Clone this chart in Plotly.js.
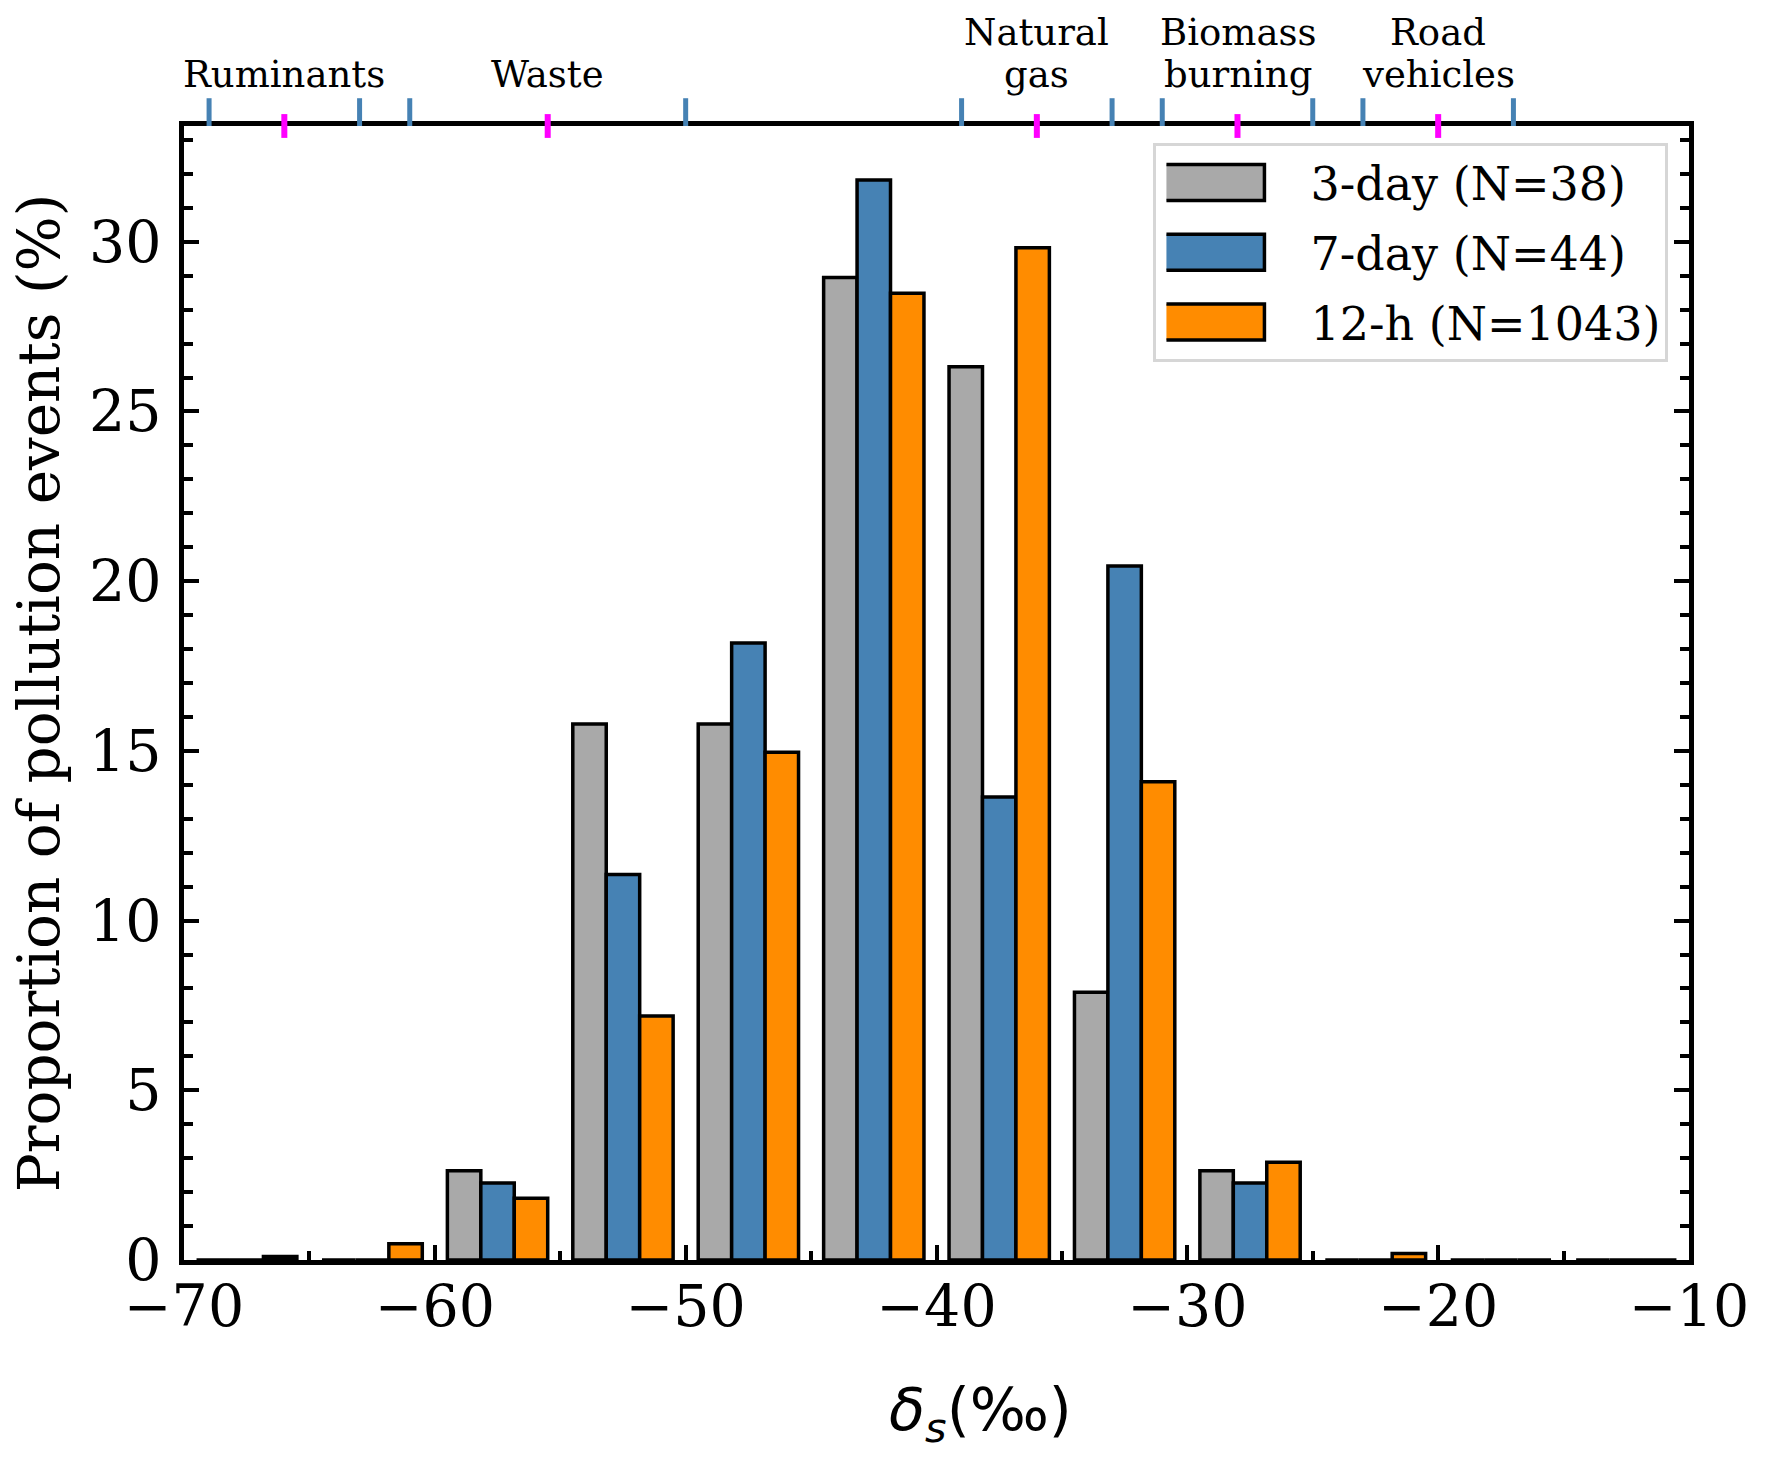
<!DOCTYPE html>
<html>
<head>
<meta charset="utf-8">
<script src="https://cdn.plot.ly/plotly-3.0.1.min.js"></script>
<style>
  body { margin: 0; background: #fff; }
  #chart { width: 1768px; height: 1462px; }
</style>
</head>
<body>
<div id="chart"></div>
<script>
// bin centres of the 5-permil histogram bins (-70 ... -10)
const binCentres = [-67.5, -62.5, -57.5, -52.5, -47.5, -42.5, -37.5, -32.5, -27.5, -22.5, -17.5, -12.5];

// proportion of pollution events per bin (%)
const threeDay = [0, 0, 2.63, 15.79, 15.79, 28.95, 26.32, 7.89, 2.63, 0, 0, 0];
const sevenDay = [0, 0, 2.27, 11.36, 18.18, 31.82, 13.64, 20.45, 2.27, 0, 0, 0];
const twelveHour = [0.10, 0.48, 1.82, 7.19, 14.96, 28.48, 29.82, 14.09, 2.88, 0.19, 0, 0];

const seriesNames = ['3-day (N=38)', '7-day (N=44)', '12-h (N=1043)'];

// source signatures shown along the top axis (labels split in two lines)
const sourceLine1 = ['', '', 'Natural', 'Biomass', 'Road'];
const sourceLine2 = ['Ruminants', 'Waste', 'gas', 'burning', 'vehicles'];
const sourceMean = [-66, -55.5, -36, -28, -20];
const sourceLow = [-69, -61, -39, -31, -23];
const sourceHigh = [-63, -50, -33, -25, -17];

const serif = 'DejaVu Serif, serif';
const colours = ['#a9a9a9', '#4682b4', '#ff8c00'];

const traces = [threeDay, sevenDay, twelveHour].map((vals, i) => ({
    type: 'bar',
    x: binCentres,
    y: vals,
    name: seriesNames[i],
    legendgroup: 'g' + i,
    marker: {color: colours[i], line: {color: '#000', width: 3.5}},
    hoverinfo: 'x+y'
}));

// top-axis ranges (blue) and means (magenta)
let shapes = [];
sourceLow.concat(sourceHigh).forEach(v => {
    shapes.push({type: 'line', xref: 'x', yref: 'paper', x0: v, x1: v, y0: 1, y1: 1.0245,
        line: {color: '#4682b4', width: 5}});
});
sourceMean.forEach(v => {
    shapes.push({type: 'line', xref: 'x', yref: 'paper', x0: v, x1: v, y0: 0.9895, y1: 1.0105,
        line: {color: '#ff00ff', width: 6}});
});

let annotations = [];
sourceMean.forEach((m, i) => {
    [[sourceLine1[i], 1.062], [sourceLine2[i], 1.025]].forEach(([txt, yy]) => {
        if (!txt) return;
        annotations.push({
            x: m, xref: 'x', y: yy, yref: 'paper',
            text: txt, showarrow: false, xanchor: 'center', yanchor: 'bottom',
            font: {family: serif, size: 37, color: '#000'}
        });
    });
});

annotations.push({
    x: 0.529, xref: 'paper', y: -0.135, yref: 'paper',
    text: '<i>δ<sub>s</sub></i>(‰)', showarrow: false, xanchor: 'center', yanchor: 'middle',
    font: {family: 'DejaVu Sans, sans-serif', size: 59, color: '#000'}
});

const layout = {
    width: 1768,
    height: 1462,
    margin: {l: 184, r: 79, t: 126, b: 202},
    paper_bgcolor: '#fff',
    plot_bgcolor: '#fff',
    barmode: 'group',
    bargap: 0.2,
    bargroupgap: 0,
    font: {family: serif, color: '#000'},
    xaxis: {
        range: [-70, -10],
        tickmode: 'linear', tick0: -70, dtick: 10,
        ticks: 'inside', ticklen: 15, tickwidth: 4, tickcolor: '#000',
        minor: {dtick: 5, ticks: 'inside', ticklen: 9, tickwidth: 4, tickcolor: '#000'},
        showline: true, linewidth: 5, linecolor: '#000', mirror: true,
        showgrid: false, zeroline: false,
        tickfont: {family: serif, size: 57},
        ticklabelstandoff: -7
    },
    yaxis: {
        range: [0, 33.41],
        tickmode: 'linear', tick0: 0, dtick: 5,
        ticks: 'inside', ticklen: 15, tickwidth: 4, tickcolor: '#000',
        minor: {dtick: 1, ticks: 'inside', ticklen: 9, tickwidth: 4, tickcolor: '#000'},
        showline: true, linewidth: 5, linecolor: '#000', mirror: 'ticks',
        showgrid: false, zeroline: false,
        tickfont: {family: serif, size: 57},
        ticklabelstandoff: 6,
        title: {text: 'Proportion of pollution events (%)', font: {family: serif, size: 58}, standoff: 12}
    },
    legend: {
        x: 0.987, y: 0.985, xanchor: 'right', yanchor: 'top',
        bgcolor: '#fff', bordercolor: '#d6d6d6', borderwidth: 3,
        font: {family: serif, size: 46},
        itemwidth: 134,
        tracegroupgap: 7
    },
    shapes: shapes,
    annotations: annotations
};

Plotly.newPlot('chart', traces, layout, {displayModeBar: false, staticPlot: true}).then(gd => {
    // stretch the legend patches into matplotlib-like rectangles
    gd.querySelectorAll('.legendpoints path').forEach(p => {
        p.setAttribute('transform', 'translate(47,0) scale(8.5,3.0)');
        p.style.vectorEffect = 'non-scaling-stroke';
        p.style.strokeWidth = '3.5px';
    });
    // a little more room on the left of the legend box
    const bg = gd.querySelector('.legend rect.bg');
    if (bg) {
        const w = parseFloat(bg.getAttribute('width'));
        bg.setAttribute('x', -9);
        bg.setAttribute('width', w + 9);
    }
});
</script>
</body>
</html>
